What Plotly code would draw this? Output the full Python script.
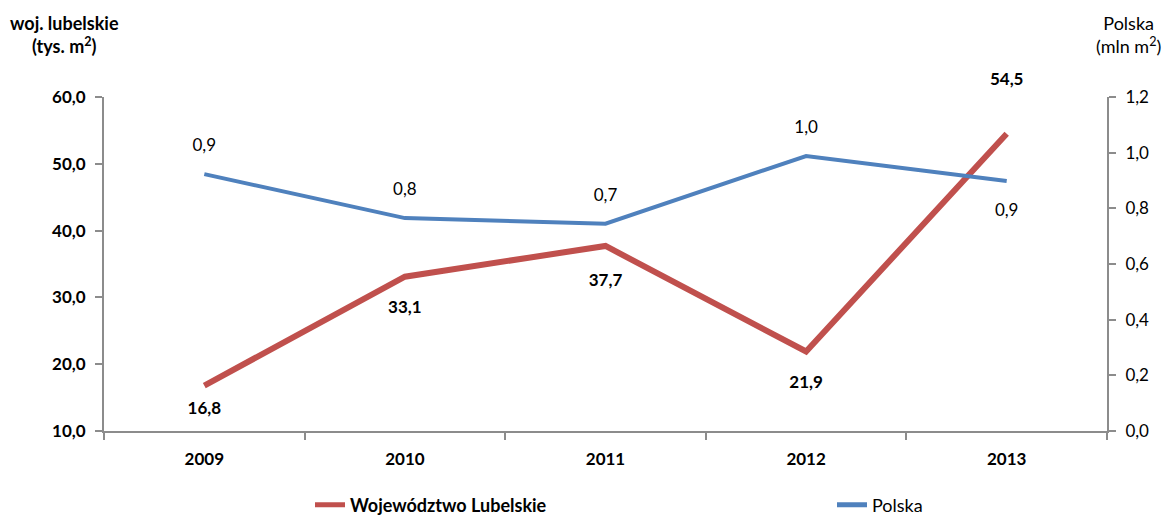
import plotly.graph_objects as go

years = ["2009", "2010", "2011", "2012", "2013"]
lubelskie = [16.8, 33.1, 37.7, 21.9, 54.5]
polska = [0.923, 0.765, 0.745, 0.988, 0.898]

# label placement styles
lub_pos = ["bottom center", "bottom center", "bottom center", "bottom center", "top center"]
pol_pos = ["top center", "top center", "top center", "top center", "bottom center"]
lub_gap = [24, 36, 42, 36, 70]
pol_gap = [28, 28, 28, 28, 34]

FONT = "Lato"
AX = "#8c8c8c"
OFF = 8  # page body margin offset
W, H = 1173 - OFF, 516 - OFF
ML, MT = 104 - OFF, 97 - OFF
MR = W + OFF - 1107
MB = H + OFF - 431
PW, PH = W - ML - MR, H - MT - MB

def px_x(sx):
    return (sx - OFF - ML) / PW

def px_y(sy):
    return (H - MB - (sy - OFF)) / PH

fig = go.Figure()
fig.add_trace(go.Scatter(
    x=years, y=lubelskie, name="<b>Województwo Lubelskie</b>",
    mode="lines+markers+text", line=dict(color="#C0504D", width=6),
    marker=dict(size=lub_gap, color="rgba(0,0,0,0)", line=dict(width=0, color="rgba(0,0,0,0)")),
    texttemplate="<b>%{y:.1f}</b>", textposition=lub_pos,
    textfont=dict(family=FONT, size=17, color="black"),
    cliponaxis=False, yaxis="y", legend="legend"))
fig.add_trace(go.Scatter(
    x=years, y=polska, name="Polska",
    mode="lines+markers+text", line=dict(color="#4F81BD", width=4),
    marker=dict(size=pol_gap, color="rgba(0,0,0,0)", line=dict(width=0, color="rgba(0,0,0,0)")),
    texttemplate="%{y:.1f}", textposition=pol_pos,
    textfont=dict(family=FONT, size=17, color="black"),
    cliponaxis=False, yaxis="y2", legend="legend2"))

legfont = dict(family=FONT, size=18, color="black")
fig.update_layout(
    width=W, height=H,
    margin=dict(l=ML, r=MR, t=MT, b=MB, autoexpand=False),
    paper_bgcolor="white", plot_bgcolor="white",
    separators=", ",
    font=dict(family=FONT, size=17, color="black"),
    showlegend=True,
    legend=dict(orientation="h", x=px_x(310), xanchor="left", y=px_y(505), yanchor="middle",
                font=legfont, bgcolor="rgba(0,0,0,0)", itemsizing="constant"),
    legend2=dict(orientation="h", x=px_x(832), xanchor="left", y=px_y(505), yanchor="middle",
                 font=legfont, bgcolor="rgba(0,0,0,0)", itemsizing="constant"),
    xaxis=dict(type="category", range=[-0.5, 4.5], showline=True, linecolor=AX, linewidth=2,
               ticks="outside", tickson="boundaries", ticklen=7, tickcolor=AX, tickwidth=2,
               showgrid=False, tickfont=dict(family=FONT, size=17, color="black"),
               tickprefix="<b>", ticksuffix="</b>", ticklabelstandoff=12, automargin=False),
    yaxis=dict(range=[10, 60], dtick=10, tickformat=".1f", showline=True, linecolor=AX,
               linewidth=2, ticks="outside", ticklen=7, tickcolor=AX, tickwidth=2,
               showgrid=False, zeroline=False, tickprefix="<b>", ticksuffix="</b>",
               ticklabelstandoff=6, automargin=False,
               tickfont=dict(family=FONT, size=17, color="black")),
    yaxis2=dict(range=[0, 1.2], dtick=0.2, tickformat=".1f", overlaying="y", side="right",
                showline=True, linecolor=AX, linewidth=2, ticks="outside", ticklen=7,
                tickcolor=AX, tickwidth=2, showgrid=False, zeroline=False,
                ticklabelstandoff=6, automargin=False,
                tickfont=dict(family=FONT, size=17, color="black")),
    annotations=[
        dict(text="<b>woj. lubelskie<br>(tys. m<sup>2</sup>)</b>", xref="paper", yref="paper",
             x=px_x(64), y=px_y(34), xanchor="center", yanchor="middle", showarrow=False,
             font=dict(family=FONT, size=18, color="black"), align="center"),
        dict(text="Polska<br>(mln m<sup>2</sup>)", xref="paper", yref="paper",
             x=px_x(1128), y=px_y(34), xanchor="center", yanchor="middle", showarrow=False,
             font=dict(family=FONT, size=18, color="black"), align="center"),
    ],
)

fig.write_html("out.html")
